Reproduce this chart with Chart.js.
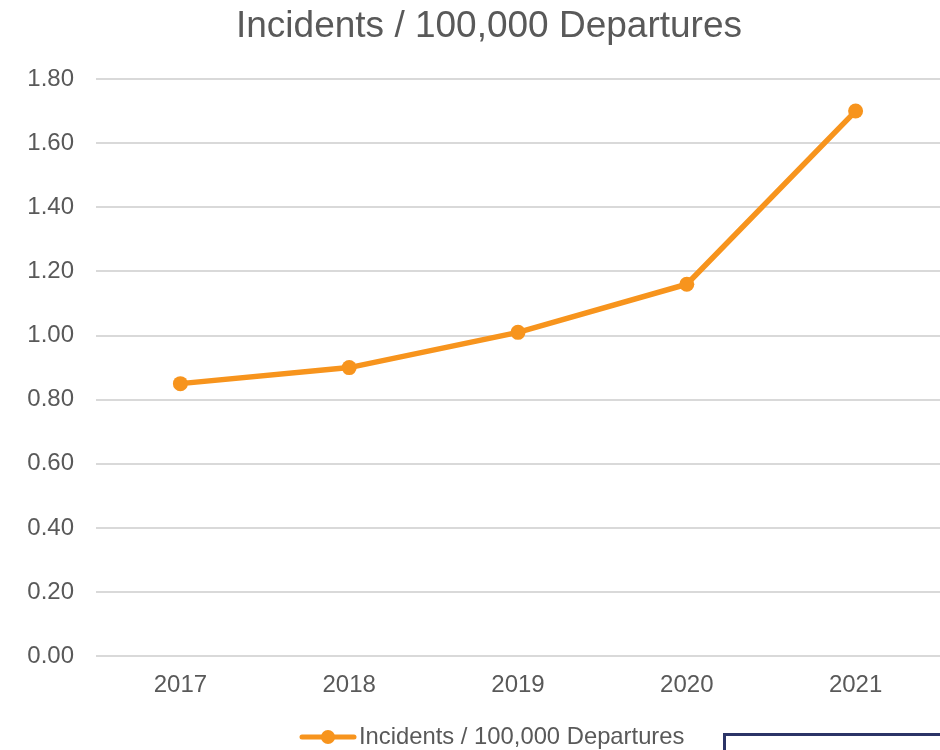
<!DOCTYPE html>
<html>
<head>
<meta charset="utf-8">
<title>Incidents / 100,000 Departures</title>
<script src="https://cdn.jsdelivr.net/npm/chart.js@4/dist/chart.umd.min.js"></script>
<style>
  body { margin: 0; background: #fff; }
  #wrap { position: relative; width: 940px; height: 750px; overflow: hidden; }
  #inner { position: absolute; left: 0; top: 0; width: 948px; height: 750px; }
  #box { position: absolute; left: 723px; top: 733px; width: 240px; height: 40px;
         border: 3px solid #2b3467; box-sizing: border-box; }
</style>
</head>
<body>
<div id="wrap">
  <div id="inner"><canvas id="lineChart"></canvas></div>
  <div id="box"></div>
</div>
<script>
// Data
const years = ['2017', '2018', '2019', '2020', '2021'];
const incidents = [0.85, 0.90, 1.01, 1.16, 1.70];
const seriesName = 'Incidents / 100,000 Departures';

const textColor = '#595959';
const lineColor = '#F7941D';
const fontFamily = '"Liberation Sans", Arial, sans-serif';

// Title and legend drawn by hand (title sits right of the canvas centre)
const chartTexts = {
    id: 'chartTexts',
    afterDraw(chart) {
        const ctx = chart.ctx;
        ctx.save();
        ctx.fillStyle = textColor;
        ctx.font = '37px ' + fontFamily;
        ctx.textAlign = 'center';
        ctx.textBaseline = 'middle';
        ctx.fillText(seriesName, 489, 27);

        const y = 737;
        ctx.strokeStyle = lineColor;
        ctx.lineWidth = 5;
        ctx.lineCap = 'round';
        ctx.beginPath();
        ctx.moveTo(302, y);
        ctx.lineTo(354, y);
        ctx.stroke();
        ctx.fillStyle = lineColor;
        ctx.beginPath();
        ctx.arc(328, y, 7, 0, Math.PI * 2);
        ctx.fill();
        ctx.fillStyle = textColor;
        ctx.font = '23.8px ' + fontFamily;
        ctx.textAlign = 'left';
        ctx.fillText(chart.data.datasets[0].label, 359, y);
        ctx.restore();
    }
};

const ctx = document.getElementById('lineChart').getContext('2d');
new Chart(ctx, {
    type: 'line',
    data: {
        labels: years,
        datasets: [{
            label: seriesName,
            data: incidents,
            borderColor: lineColor,
            backgroundColor: lineColor,
            borderWidth: 5.5,
            pointRadius: 7.5,
            pointHoverRadius: 7.5,
            pointBackgroundColor: lineColor,
            pointBorderWidth: 0,
            tension: 0
        }]
    },
    options: {
        responsive: true,
        maintainAspectRatio: false,
        animation: false,
        layout: { padding: { left: 0, right: 8, top: 79, bottom: 43 } },
        plugins: {
            legend: { display: false },
            tooltip: { enabled: false },
            title: { display: false }
        },
        scales: {
            x: {
                offset: true,
                grid: { display: false },
                border: { display: false },
                ticks: {
                    color: textColor,
                    padding: 7,
                    font: { family: fontFamily, size: 24 }
                }
            },
            y: {
                min: 0,
                max: 1.8,
                afterFit(scale) { scale.width = 96; },
                grid: { color: '#d9d9d9', lineWidth: 2, drawTicks: false },
                border: { display: false },
                ticks: {
                    stepSize: 0.2,
                    color: textColor,
                    padding: 22,
                    font: { family: fontFamily, size: 24 },
                    callback: (v) => v.toFixed(2)
                }
            }
        }
    },
    plugins: [chartTexts]
});
</script>
</body>
</html>
